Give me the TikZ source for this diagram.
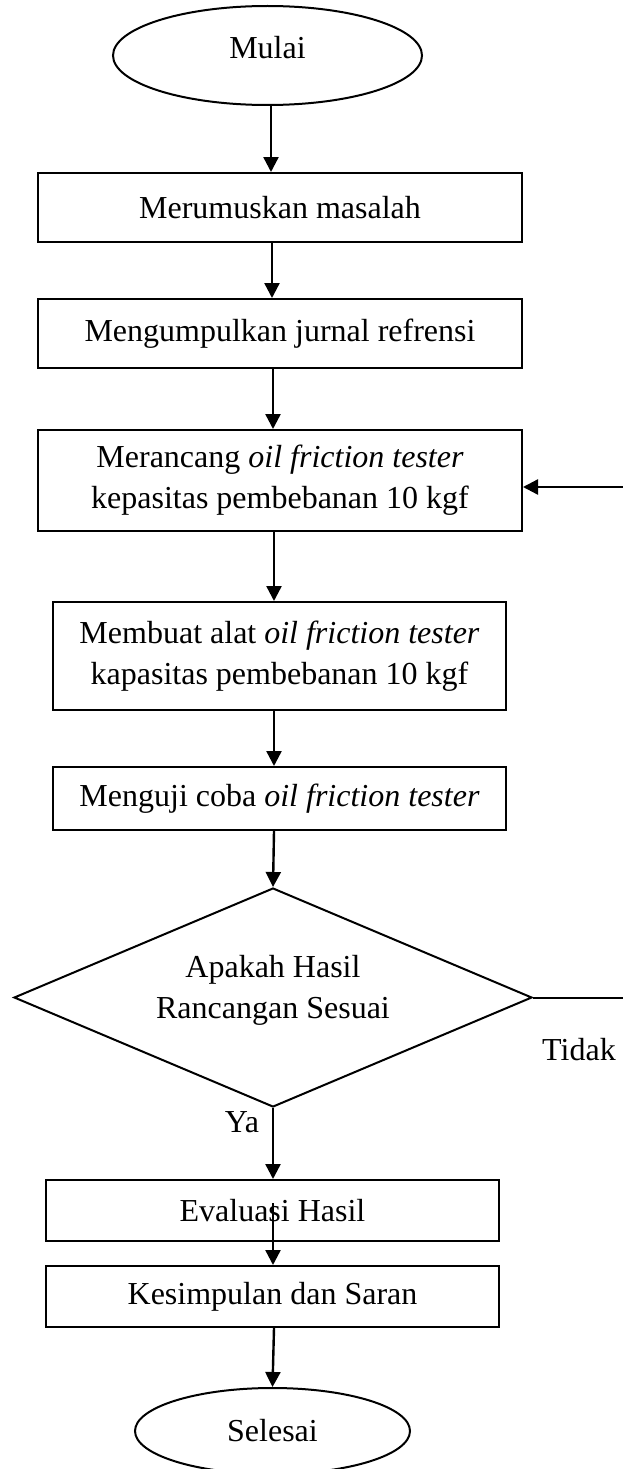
\documentclass[tikz,border=0pt]{standalone}
\usepackage{fontspec}
\setmainfont{Liberation Serif}
\usetikzlibrary{shapes.geometric,arrows.meta,calc}
\tikzset{
  flow/.style={draw, line width=2pt, font=\fontsize{32}{41}\selectfont, align=center, inner sep=0pt},
  procbox/.style={flow, rectangle},
  termin/.style={flow, ellipse},
  decis/.style={flow, diamond, shape aspect=2.37},
  conn/.style={line width=2.4pt, -{Triangle[length=15pt,width=15pt]}},
  plainline/.style={line width=2pt},
  lbl/.style={font=\fontsize{32}{41}\selectfont, inner sep=0pt, align=center},
}
\begin{document}
\begin{tikzpicture}[x=1pt,y=-1pt]
\useasboundingbox (0,0) rectangle (623,1469);
\node[termin, minimum width=309pt, minimum height=99pt, label={[lbl,yshift=8pt]center:Mulai}] (mulai) at (267.5,55.5) {};
\node[procbox, minimum width=484pt, minimum height=69pt] (box1) at (280,207.5) {Merumuskan masalah};
\node[procbox, minimum width=484pt, minimum height=69pt] (box2) at (280,333.5) {Mengumpulkan jurnal refrensi};
\node[procbox, minimum width=484pt, minimum height=101pt] (box3) at (280,480.5) {Merancang \textit{oil friction tester}\\kepasitas pembebanan 10 kgf};
\node[procbox, minimum width=453pt, minimum height=108pt] (box4) at (279.5,656) {Membuat alat \textit{oil friction tester}\\kapasitas pembebanan 10 kgf};
\node[procbox, minimum width=453pt, minimum height=63pt] (box5) at (279.5,798.5) {Menguji coba \textit{oil friction tester}};
\node[decis, minimum width=518pt, minimum height=219pt, label={[lbl,yshift=7pt]center:Apakah Hasil\\Rancangan Sesuai}] (dia) at (273,997.5) {};
\node[procbox, minimum width=453pt, minimum height=61pt] (box6) at (272.5,1210.5) {Evaluasi Hasil};
\node[procbox, minimum width=453pt, minimum height=61pt] (box7) at (272.5,1296.5) {Kesimpulan dan Saran};
\node[termin, minimum width=275pt, minimum height=86pt] (selesai) at (272.5,1431) {Selesai};
\node[lbl] (tidak) at (579,1050) {Tidak};
\node[lbl] (ya) at (242,1122) {Ya};
\coordinate (k1) at (271,0);
\coordinate (k2) at (272,0);
\coordinate (k3) at (273,0);
\coordinate (k4) at (274,0);
\coordinate (e6) at (273,1203);
\coordinate (rt) at (623,997.5);
\coordinate (rb) at (623,487);
\draw[conn] (mulai.south -| k1) -- (box1.north -| k1);
\draw[conn] (box1.south -| k2) -- (box2.north -| k2);
\draw[conn] (box2.south -| k3) -- (box3.north -| k3);
\draw[conn] (box3.south -| k4) -- (box4.north -| k4);
\draw[conn] (box4.south -| k4) -- (box5.north -| k4);
\draw[conn] (box5.south -| k4) -- (dia.north);
\draw[conn] (dia.south) -- (box6.north -| dia.south);
\draw[conn] (e6) -- (box7.north -| e6);
\draw[conn] (box7.south -| k4) -- (selesai.north);
\draw[plainline] (dia.east) -- (rt);
\draw[conn] (rb) -- (box3.east |- rb);
\end{tikzpicture}
\end{document}
